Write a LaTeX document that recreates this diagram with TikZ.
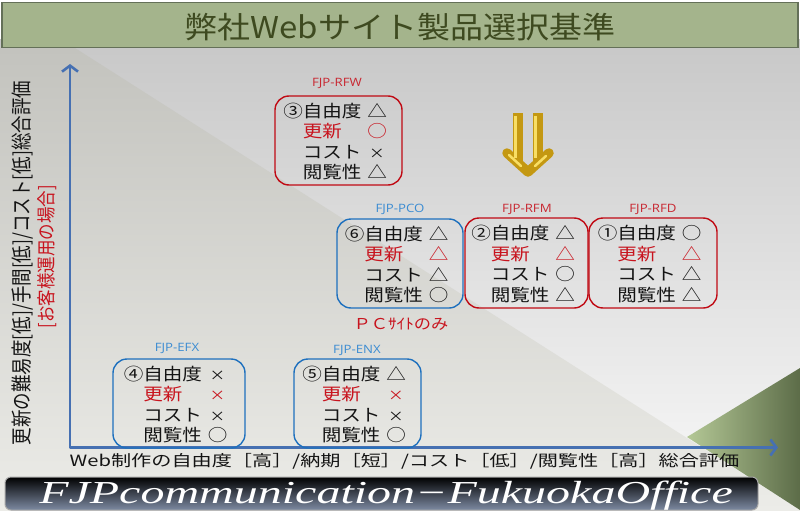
\documentclass[tikz,border=0pt]{standalone}
\usepackage{fontspec}
\usepackage{graphicx}
\setmainfont{Noto Sans CJK JP}
\newfontfamily\labfont{Open Sans}
\newfontfamily\serfont{Liberation Serif}
\usetikzlibrary{arrows.meta}
\definecolor{bgtop}{RGB}{200,200,200}
\definecolor{bgbot}{RGB}{250,250,250}
\definecolor{bgLtop}{RGB}{195,195,190}
\definecolor{bgLbot}{RGB}{236,236,232}
\definecolor{grL}{RGB}{180,200,150}
\definecolor{grR}{RGB}{92,108,72}
\definecolor{titlefill}{RGB}{164,180,140}
\definecolor{titleline}{RGB}{100,112,88}
\definecolor{titletext}{RGB}{62,74,32}
\definecolor{axisblue}{RGB}{70,112,178}
\definecolor{boxred}{RGB}{192,10,20}
\definecolor{boxblue}{RGB}{30,112,190}
\definecolor{txtred}{RGB}{200,20,30}
\definecolor{txtblack}{RGB}{20,20,20}
\definecolor{labred}{RGB}{200,40,50}
\definecolor{labblue}{RGB}{60,140,210}
\definecolor{goldD}{RGB}{196,152,18}
\definecolor{goldL}{RGB}{248,222,100}
\definecolor{footbot}{RGB}{125,138,162}
\newcommand{\xx}{\scalebox{0.8}{×}}
\newcommand{\evalrows}[5]{%
  \raisebox{-3.5pt}[\height][\depth]{\scalebox{1.15}[1]{\fontsize{17}{20.5}\selectfont
  \begin{tabular}{@{}l@{}l@{\hspace{5pt}}c@{\hspace{6pt}}}
  #1 & 自由度 & #2\\
     & \textcolor{txtred}{更新} & \textcolor{txtred}{#3}\\
     & コスト & #4\\
     & 閲覧性 & #5
  \end{tabular}}}}
\tikzset{
  evbox/.style={draw, rounded corners=14pt, line width=1.4pt, inner sep=0pt, text=txtblack},
  redbox/.style={evbox, draw=boxred},
  bluebox/.style={evbox, draw=boxblue},
  prodlab/.style={inner sep=0pt, font=\labfont\fontsize{11.5}{12}\selectfont},
  axisline/.style={draw=axisblue, line width=2.6pt, line join=round},
  goldbar/.style={draw=goldD, line width=9.5pt},
  goldhi/.style={draw=goldL, line width=2.5pt},
}
\begin{document}
\begin{tikzpicture}[x=1pt,y=-1pt]
\useasboundingbox (0,0) rectangle (800,511);
% background
\shade[top color=bgtop, bottom color=bgbot] (0,40) rectangle (800,511);
\shade[top color=bgLtop, bottom color=bgLbot] (0,48) -- (75,48) -- (800,510) -- (800,511) -- (0,511) -- cycle;
\shade[left color=grL, right color=grR] (687,437) -- (800,368) -- (800,510) -- cycle;
% title
\node[draw=titleline, fill=titlefill, line width=1.5pt, minimum width=796pt, minimum height=45pt, inner sep=0pt] (titlebar) at (400,25) {};
\node[text=titletext, inner sep=0pt] (title) at (400,27) {\scalebox{1.1}[1]{\fontsize{30}{30}\selectfont 弊社Webサイト製品選択基準}};
% axes
\coordinate (O) at (70,447.5);
\coordinate (Ytip) at (70,64);
\coordinate (Xtip) at (778,447.5);
\draw[axisline, {Straight Barb[length=6pt,width=16pt]}-{Straight Barb[length=6pt,width=16pt]}] (Ytip) -- (O) -- (Xtip);
% axis labels
\node[rotate=90, text=txtblack, inner sep=0pt] (ylab) at (23,263) {\scalebox{1}[1.2]{\fontsize{17.5}{17.5}\selectfont 更新の難易度[低]/手間[低]/コスト[低]総合評価}};
\node[rotate=90, text=txtred, inner sep=0pt] (ylab2) at (47,256.5) {\scalebox{1}[1.15]{\fontsize{16.5}{16.5}\selectfont [お客様運用の場合]}};
\node[text=txtblack, inner sep=0pt] (xlab) at (404.5,461.5) {\scalebox{1.3}[1]{\fontsize{15.5}{15.5}\selectfont Web制作の自由度［高］/納期［短］/コスト［低］/閲覧性［高］総合評価}};
% boxes
\node[redbox, minimum width=127pt, minimum height=89pt] (rfw) at (338.5,140.5) {\evalrows{③}{△}{○}{\xx}{△}};
\node[bluebox, minimum width=126pt, minimum height=89pt] (pco) at (400,263.5) {\evalrows{⑥}{△}{△}{△}{○}};
\node[redbox, minimum width=123pt, minimum height=90pt] (rfm) at (526.5,263) {\evalrows{②}{△}{△}{○}{△}};
\node[redbox, minimum width=128pt, minimum height=90pt] (rfd) at (653,263) {\evalrows{①}{○}{△}{△}{△}};
\node[bluebox, minimum width=132pt, minimum height=89pt] (efx) at (179,403.5) {\evalrows{④}{\xx}{\xx}{\xx}{○}};
\node[bluebox, minimum width=127pt, minimum height=89pt] (enx) at (357.5,403.5) {\evalrows{⑤}{△}{\xx}{\xx}{○}};
% product labels
\node[prodlab, text=labred] (lrfw) at (337,83) {\scalebox{1.15}[1]{FJP-RFW}};
\node[prodlab, text=labblue] (lpco) at (400,209) {\scalebox{1.15}[1]{FJP-PCO}};
\node[prodlab, text=labred] (lrfm) at (527,209) {\scalebox{1.15}[1]{FJP-RFM}};
\node[prodlab, text=labred] (lrfd) at (653,209) {\scalebox{1.15}[1]{FJP-RFD}};
\node[prodlab, text=labblue] (lefx) at (177,348) {\scalebox{1.15}[1]{FJP-EFX}};
\node[prodlab, text=labblue] (lenx) at (357,350) {\scalebox{1.15}[1]{FJP-ENX}};
\node[text=txtred, inner sep=0pt] (pconly) at (401,324) {\scalebox{1.15}[1]{\fontsize{15}{15}\selectfont ＰＣｻｲﾄのみ}};
% gold arrow
\draw[goldbar] (518,113) -- (518,162);
\draw[goldbar] (538,113) -- (538,162);
\draw[goldbar, line join=round, line cap=round] (507,153) -- (528,172) -- (549,153);
\draw[goldhi] (515.5,116) -- (515.5,158);
\draw[goldhi] (535.5,116) -- (535.5,158);
\draw[goldhi, line cap=round] (509,155) -- (521,166);
\draw[goldhi, line cap=round] (535,166) -- (546,156);
% footer
\node[draw=gray!70, line width=1pt, rounded corners=6pt, top color=black, middle color=black, bottom color=footbot, minimum width=753pt, minimum height=33pt, inner sep=0pt] (footbar) at (381.5,493.5) {};
\node[text=white, anchor=base, inner sep=0pt] (foottxt) at (386,503) {\scalebox{1.5}[1]{\serfont\itshape\fontsize{32}{32}\selectfont FJPcommunication−FukuokaOffice}};
\end{tikzpicture}
\end{document}
